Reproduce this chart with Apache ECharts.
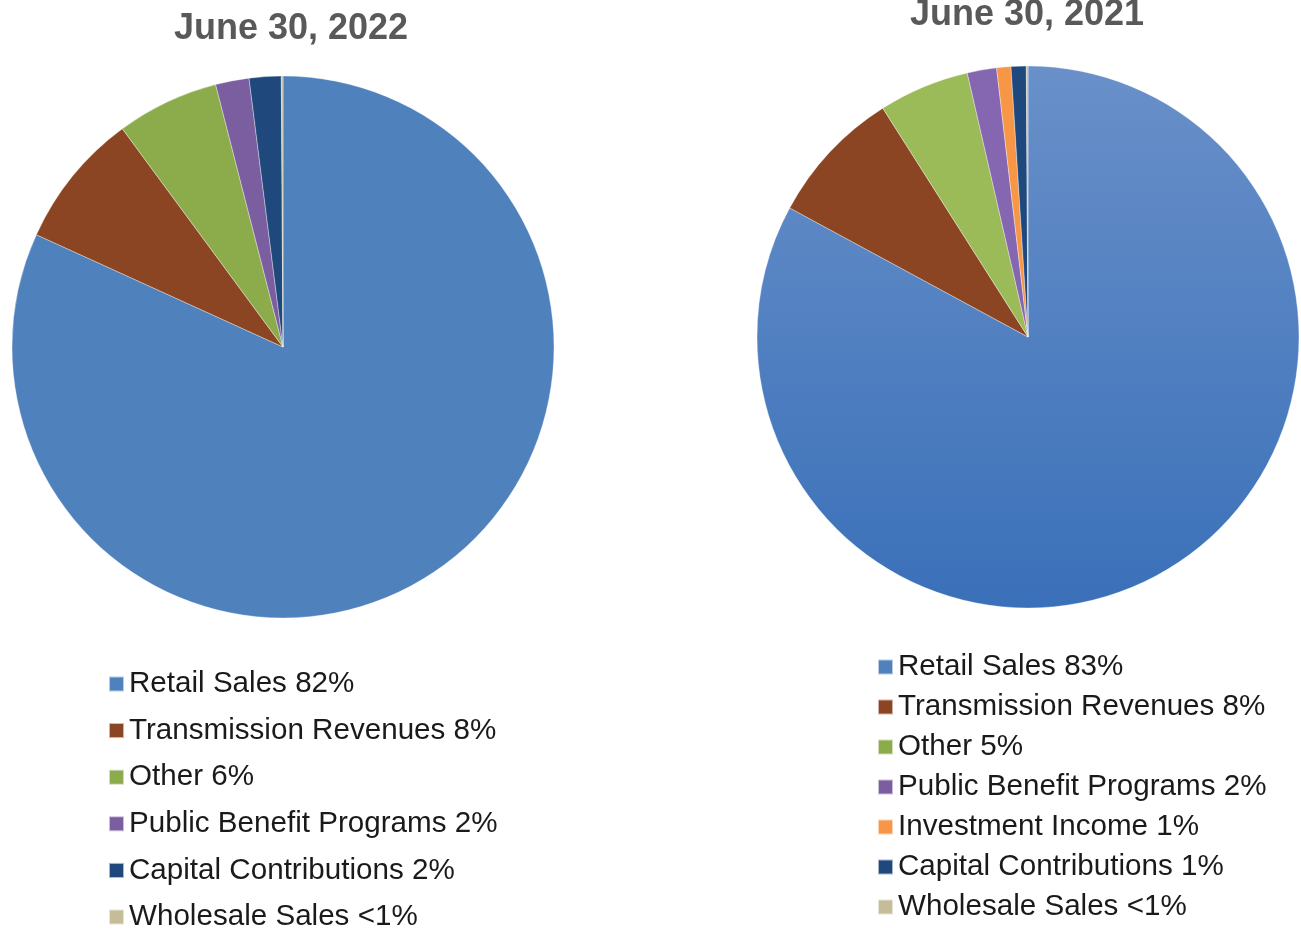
<!DOCTYPE html>
<html>
<head>
<meta charset="utf-8">
<script src="https://cdn.jsdelivr.net/npm/echarts@6/dist/echarts.min.js"></script>
<style>
  html, body { margin: 0; padding: 0; background: #fff; }
  #chart { width: 1301px; height: 929px; }
</style>
</head>
<body>
<div id="chart"></div>
<script>
// Categories and values (share of revenue, %)
const cats2022 = ['Retail Sales', 'Transmission Revenues', 'Other', 'Public Benefit Programs', 'Capital Contributions', 'Wholesale Sales'];
const vals2022 = [81.8, 8.1, 6.1, 2.0, 1.9, 0.1];
const pct2022 = ['82%', '8%', '6%', '2%', '2%', '<1%'];
const colors2022 = ['#4F81BD', '#8B4522', '#8CAC4B', '#7B5EA0', '#1F497D', '#C4BD97'];

const cats2021 = ['Retail Sales', 'Transmission Revenues', 'Other', 'Public Benefit Programs', 'Investment Income', 'Capital Contributions', 'Wholesale Sales'];
const vals2021 = [82.9, 8.1, 5.4, 1.75, 0.85, 0.9, 0.1];
const pct2021 = ['83%', '8%', '5%', '2%', '1%', '1%', '<1%'];
const colors2021 = ['#4F81BD', '#8B4522', '#9BBB59', '#8566B0', '#F79646', '#1F497D', '#C4BD97'];

const FONT = '"Liberation Sans", Arial, sans-serif';

function pieData(cats, vals, colors, gradientFirst) {
    return cats.map((c, i) => {
        let color = colors[i];
        if (gradientFirst && i === 0) {
            color = new echarts.graphic.LinearGradient(0, 0, 0, 1, [
                { offset: 0, color: '#6990C9' },
                { offset: 1, color: '#3A70B9' }
            ]);
        }
        return { name: c, value: vals[i], itemStyle: { color: color } };
    });
}

function legendFor(cats, pcts, left, top, gap) {
    return {
        orient: 'vertical',
        left: left,
        top: top,
        height: 320,
        data: cats,
        icon: 'rect',
        itemWidth: 15,
        itemHeight: 15,
        itemGap: gap,
        selectedMode: false,
        textStyle: { fontFamily: FONT, fontSize: 29.6, color: '#1a1a1a', lineHeight: 30, padding: [0, 0, 0, 0] },
        formatter: name => name + ' ' + pcts[cats.indexOf(name)]
    };
}

const chart = echarts.init(document.getElementById('chart'));

const pieBase = {
    type: 'pie',
    startAngle: 90,
    clockwise: true,
    label: { show: false },
    labelLine: { show: false },
    emphasis: { disabled: true },
    animation: false,
    itemStyle: { borderColor: 'rgba(255,255,255,0.6)', borderWidth: 0.6 }
};

chart.setOption({
    backgroundColor: '#fff',
    title: [
        {
            text: 'June 30, 2022', left: 286, top: 6, textAlign: 'center',
            textStyle: { fontFamily: FONT, fontSize: 36, fontWeight: 'bold', color: '#595959', lineHeight: 36 }
        },
        {
            text: 'June 30, 2021', left: 1022, top: -8, textAlign: 'center',
            textStyle: { fontFamily: FONT, fontSize: 36, fontWeight: 'bold', color: '#595959', lineHeight: 36 }
        }
    ],
    legend: [
        legendFor(cats2022, pct2022, 103, 664, 16.6),
        legendFor(cats2021, pct2021, 872, 647, 10)
    ],
    series: [
        Object.assign({}, pieBase, {
            name: '2022', center: [283, 347], radius: [0, 271],
            data: pieData(cats2022, vals2022, colors2022, false)
        }),
        Object.assign({}, pieBase, {
            name: '2021', center: [1028, 337], radius: [0, 271],
            data: pieData(cats2021, vals2021, colors2021, true)
        })
    ]
});
</script>
</body>
</html>
